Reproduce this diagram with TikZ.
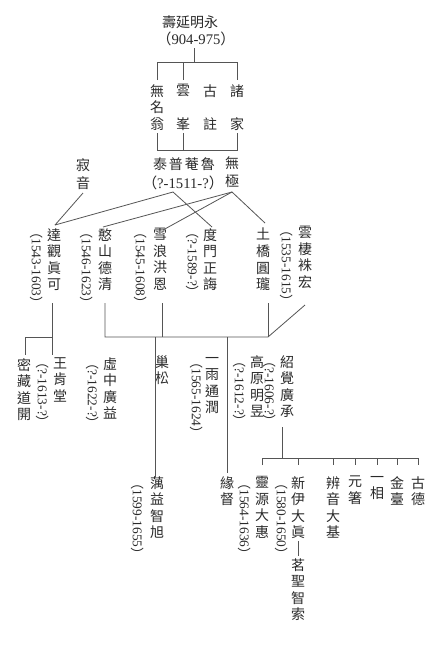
\documentclass[tikz,border=0pt]{standalone}
\usepackage{fontspec}
\setmainfont{Liberation Serif}
\newfontfamily\cjk{Noto Sans CJK TC}
\newcommand{\dts}[1]{{\cjk （}#1{\cjk ）}}
\definecolor{txt}{HTML}{2A2A2A}
\definecolor{lc}{HTML}{555555}
\tikzset{
  cj/.style={font=\cjk\fontsize{10.5}{12.4}\selectfont, align=center, inner sep=0pt, text=txt, anchor=north},
  hz/.style={font=\cjk\fontsize{10.5}{12.4}\selectfont, inner sep=0pt, text=txt},
  hzd/.style={font=\fontsize{11}{13}\selectfont, inner sep=0pt, text=txt},
  dt/.style={font=\fontsize{10}{12}\selectfont, rotate=-90, anchor=west, inner sep=0pt, text=txt},
  ln/.style={draw=lc, line width=0.6pt}
}
\begin{document}
\begin{tikzpicture}[x=0.75pt,y=-0.75pt]
\fill[white] (0,0) rectangle (443,650);
\useasboundingbox (0,0) rectangle (443,650);
% level 0
\node[hz] (root) at (190,22) {壽延明永};
\node[hzd] (rootd) at (196,39) {\dts{904-975}};
% level 1
\node[cj] (wmw) at (157,84) {無\\名\\翁};
\node[cj] (yf) at (183,84) {雲\\[13pt]峯};
\node[cj] (gz) at (210,84) {古\\[13pt]註};
\node[cj] (zj) at (237,84) {諸\\[13pt]家};
% level 2
\node[hz] (qp) at (184,164) {泰\hspace{1.5pt}普\hspace{1.5pt}菴\hspace{1.5pt}魯};
\node[hzd] (qpd) at (183,183) {\dts{?-1511-?}};
\node[cj] (wj) at (232,156) {無\\[1.5pt]極};
\node[cj] (jy) at (83,158) {寂\\[1.5pt]音};
% level 3
\node[cj] (dg) at (54,228) {達\\觀\\眞\\可};
\node[dt] (dgd) at (37,225) {\dts{1543-1603}};
\node[cj] (hs) at (105,228) {憨\\山\\德\\清};
\node[dt] (hsd) at (87,225) {\dts{1546-1623}};
\node[cj] (xl) at (160,228) {雪\\浪\\洪\\恩};
\node[dt] (xld) at (141,225) {\dts{1545-1608}};
\node[cj] (dm) at (210,228) {度\\門\\正\\誨};
\node[dt] (dmd) at (193,225) {\dts{?-1589-?}};
\node[cj] (tq) at (263,228) {土\\橋\\圓\\瓏};
\node[cj] (yq) at (305,226) {雲\\棲\\袾\\宏};
\node[dt] (yqd) at (287,223) {\dts{1535-1615}};
% level 4
\node[cj] (mz) at (24,358) {密\\藏\\道\\開};
\node[cj] (wk) at (60,357) {王\\肯\\堂};
\node[dt] (wkd) at (43,355) {\dts{?-1613-?}};
\node[cj] (xz) at (110,357) {虛\\中\\廣\\益};
\node[dt] (xzd) at (93,356) {\dts{?-1622-?}};
\node[cj] (cs) at (162,355) {巢\\松};
\node[cj] (yy) at (212,357) {一\\雨\\通\\潤};
\node[dt] (yyd) at (197,355) {\dts{1565-1624}};
\node[cj] (gy) at (257,355) {高\\原\\明\\昱};
\node[dt] (gyd) at (240,354) {\dts{?-1612-?}};
\node[cj] (sj) at (287,355) {紹\\覺\\廣\\承};
\node[dt] (sjd) at (270,354) {\dts{?-1606-?}};
% level 5
\node[cj] (oy) at (157,476) {蕅\\益\\智\\旭};
\node[dt] (oyd) at (138,476) {\dts{1599-1655}};
\node[cj] (yd) at (227,476) {緣\\督};
\node[cj] (ly) at (262,476) {靈\\源\\大\\惠};
\node[dt] (lyd) at (245,476) {\dts{1564-1636}};
\node[cj] (xy1) at (298,476) {新\\伊\\大\\眞};
\node[cj] (xy2) at (298,558) {茗\\聖\\智\\索};
\node[dt] (xyd) at (282,476) {\dts{1580-1650}};
\node[cj] (bj) at (333,476) {辨\\音\\大\\基};
\node[cj] (yz) at (355,476) {元\\箸};
\node[cj] (ys) at (377,476) {一\\相};
\node[cj] (jt) at (397,476) {金\\臺};
\node[cj] (gd) at (418,476) {古\\德};
% coordinates
\coordinate (r0) at (194,48);
\coordinate (r1) at (194,62);
\coordinate (b1) at (157,150);
\coordinate (b2) at (237,150);
\coordinate (qpb) at (173,192);
\coordinate (wjb) at (232,192);
\coordinate (jyb) at (83,193);
\coordinate (dgt) at (55,225);
\coordinate (hst) at (103,227);
\coordinate (xlt) at (163,230);
\coordinate (dmt) at (212,227);
\coordinate (tqt) at (265,223);
\coordinate (bar) at (105,337);
\coordinate (bare) at (268,337);
\coordinate (yqb) at (305,305);
\coordinate (sjb) at (282,427);
\coordinate (sjbar) at (282,458);
% connectors
\draw[ln] (r0) -- (r1);
\draw[ln] (157,80) |- (237,62) -- (237,80);
\draw[ln] (183,62) -- (183,80);
\draw[ln] (157,133) -- (b1) -- (b2) -- (237,133);
\draw[ln] (183,133) -- (183,150);
\draw[ln] (jyb) -- (dgt);
\draw[ln] (qpb) -- (dgt);
\draw[ln] (qpb) -- (dmt);
\draw[ln] (wjb) -- (hst);
\draw[ln] (wjb) -- (xlt);
\draw[ln] (wjb) -- (tqt);
\draw[ln] (52,303) -- (52,355);
\draw[ln] (52,337) -| (25,355);
\draw[ln] (105,303) -- (bar) -- (bare) -- (yqb);
\draw[ln] (162,303) -- (162,337);
\draw[ln] (268,303) -- (bare);
\draw[ln] (155,337) -- (155,477);
\draw[ln] (227,337) -- (227,473);
\draw[ln] (sjb) -- (sjbar);
\draw[ln] (262,465) |- (418,458) -- (418,465);
\foreach \x in {298,333,355,377,397} \draw[ln] (\x,458) -- (\x,465);
\draw[ln] (xy1.south) ++(0,2) -- ([yshift=1.5pt]xy2.north);
\end{tikzpicture}
\end{document}
